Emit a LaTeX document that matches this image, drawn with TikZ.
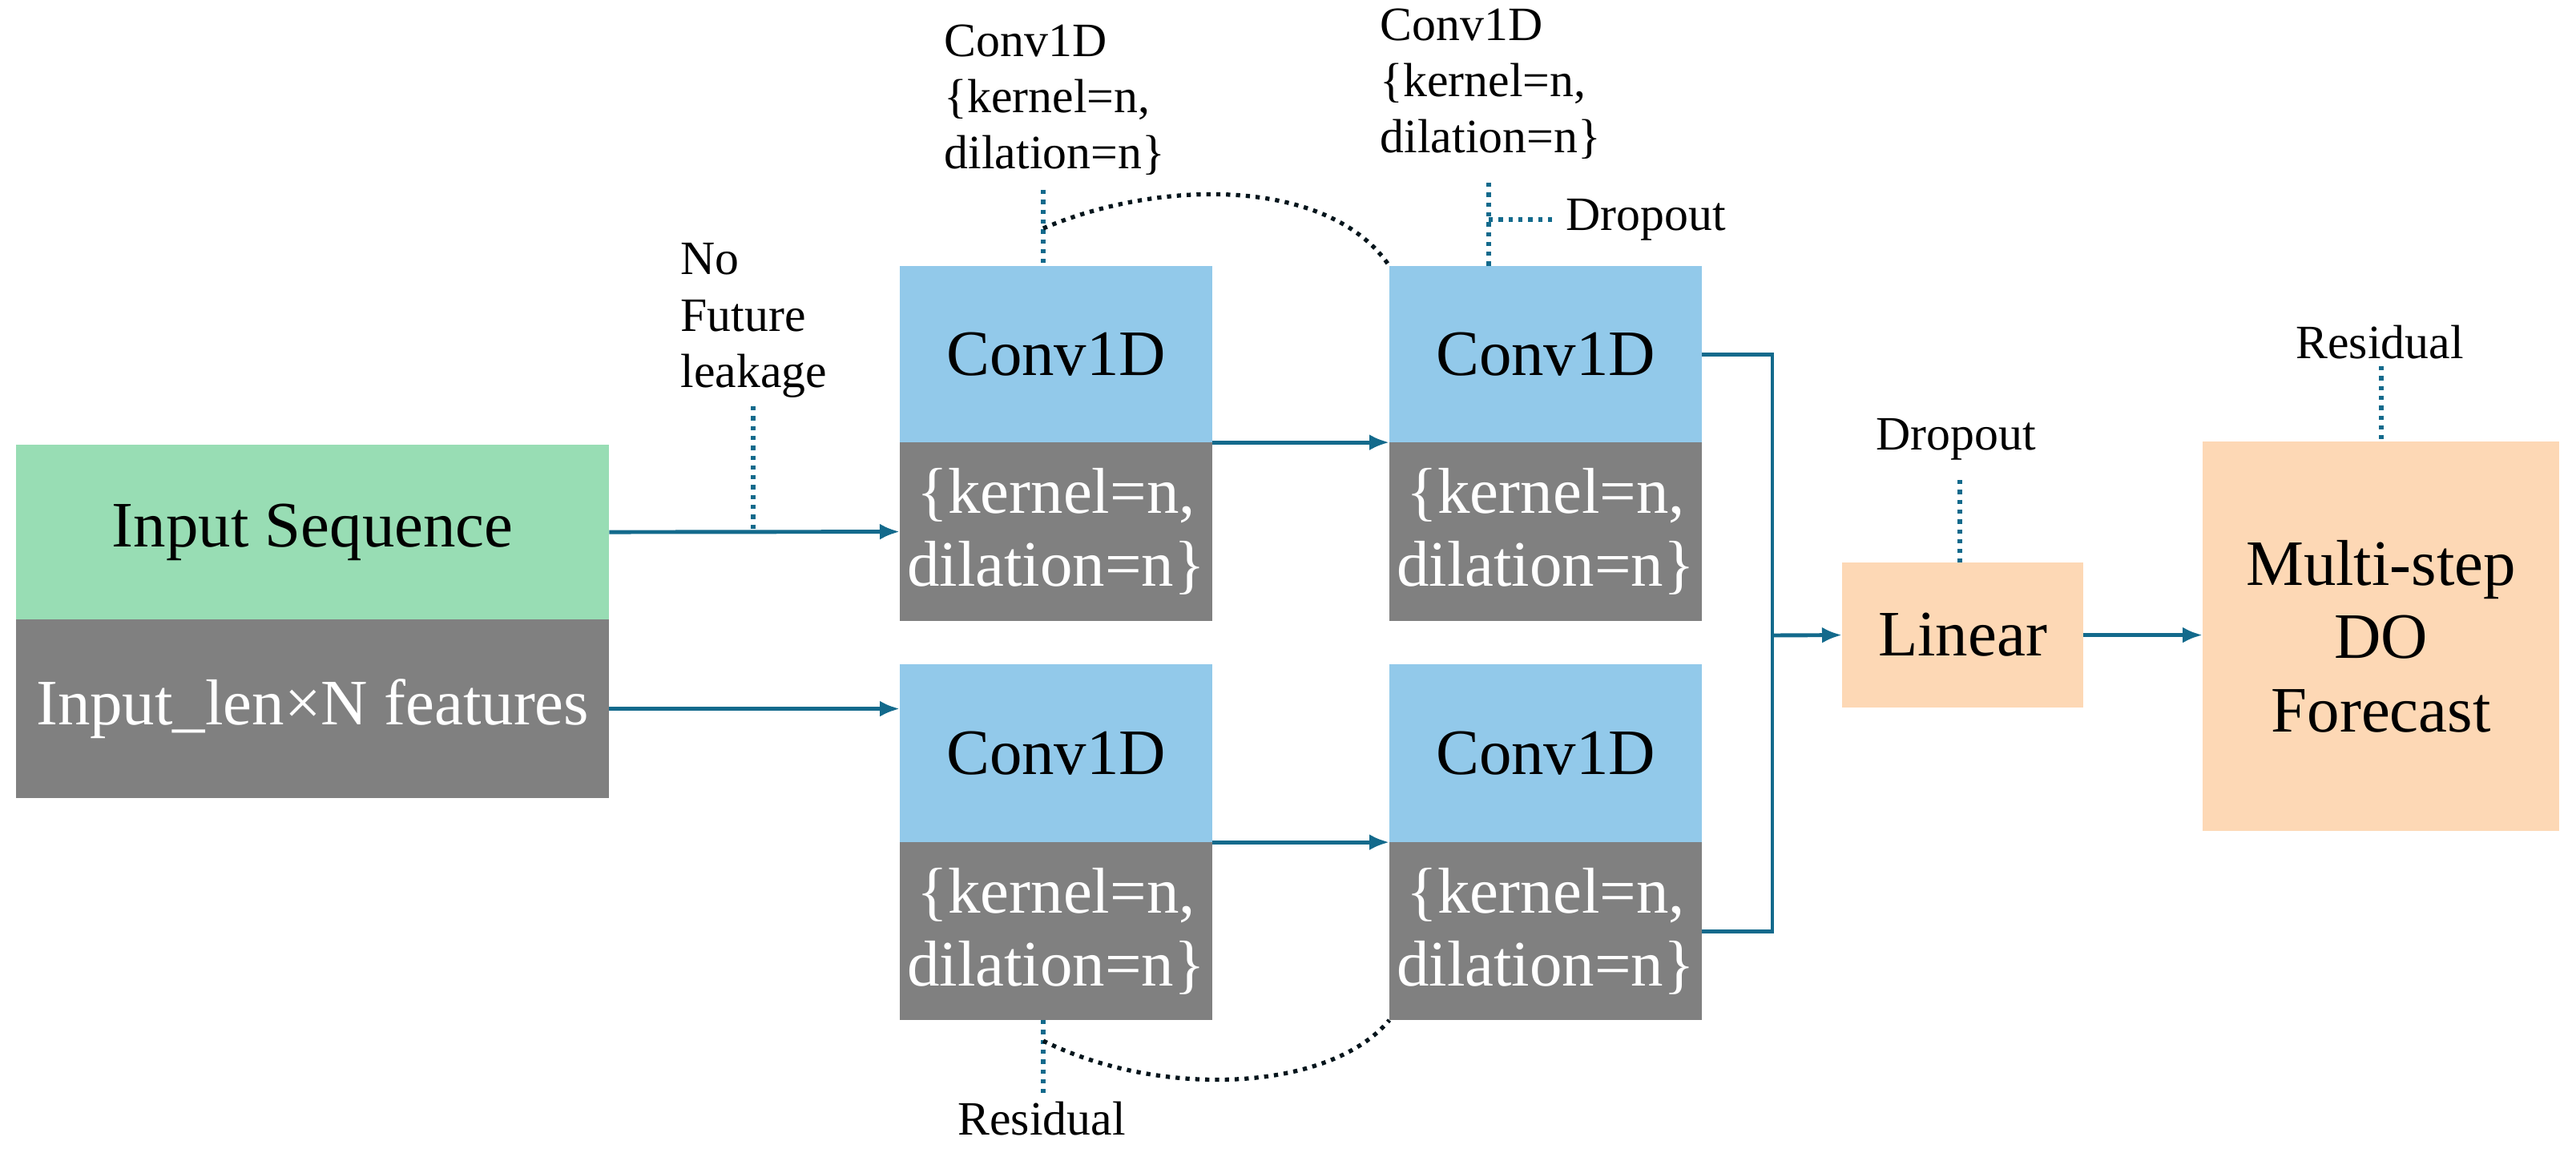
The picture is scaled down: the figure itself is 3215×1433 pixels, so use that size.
\documentclass[tikz,border=0pt]{standalone}
\usepackage{fontspec}
\setmainfont{Liberation Serif}
\usetikzlibrary{arrows.meta}
\definecolor{gr}{HTML}{98DDB4}
\definecolor{bl}{HTML}{92C9EA}
\definecolor{gy}{HTML}{808080}
\definecolor{pe}{HTML}{FDD8B5}
\definecolor{ln}{HTML}{136A8C}
\begin{document}
\begin{tikzpicture}[x=0.01cm,y=-0.01cm,
  box/.style={anchor=north west,inner sep=0pt,outer sep=0pt,font=\fontsize{23}{26}\selectfont,align=center},
  gbox/.style={box,fill=gy,text=white,minimum height=2.22cm},
  cbox/.style={box,fill=bl,minimum width=3.9cm,minimum height=2.2cm},
  arr/.style={draw=ln,line width=1.4pt,-{Latex[length=0.25cm,width=0.2cm]}},
  ln/.style={draw=ln,line width=1.4pt},
  dot/.style={draw=ln,line width=1.5pt,dotted},
  dotk/.style={draw=black!80!ln,line width=1.5pt,dotted},
  lab/.style={font=\fontsize{17}{20}\selectfont,align=left,inner sep=0pt}]
\useasboundingbox (0,0) rectangle (3215,1433);
% input
\node[box,fill=gr,minimum width=7.4cm,minimum height=2.18cm] (ins) at (20,555) {Input Sequence};
\node[gbox,minimum width=7.4cm,minimum height=2.23cm] (ing) at (20,773) {Input\_len×N features};
% convs
\node[cbox] (tlb) at (1123,332) {Conv1D};
\node[gbox,minimum width=3.9cm,minimum height=2.23cm] (tlg) at (1123,552) {\{kernel=n,\\dilation=n\}};
\node[cbox,minimum height=2.22cm] (blb) at (1123,829) {Conv1D};
\node[gbox,minimum width=3.9cm] (blg) at (1123,1051) {\{kernel=n,\\dilation=n\}};
\node[cbox] (trb) at (1734,332) {Conv1D};
\node[gbox,minimum width=3.9cm,minimum height=2.23cm] (trg) at (1734,552) {\{kernel=n,\\dilation=n\}};
\node[cbox,minimum height=2.22cm] (brb) at (1734,829) {Conv1D};
\node[gbox,minimum width=3.9cm] (brg) at (1734,1051) {\{kernel=n,\\dilation=n\}};
% linear, multi
\node[box,fill=pe,minimum width=3.01cm,minimum height=1.81cm] (lin) at (2299,702) {Linear};
\node[box,fill=pe,minimum width=4.45cm,minimum height=4.86cm] (ms) at (2749,551) {Multi-step\\DO\\Forecast};
% arrows
\draw[arr] (ins.east) -- (tlg.west);
\draw[arr] (ing.east) -- (ing.east -| blb.west);
\draw[arr] (tlb.south east) -- (trb.south west);
\draw[arr] (blb.south east) -- (brb.south west);
\coordinate (j) at (2212,793);
\draw[ln] (trb.east) -| (j) |- (brg.east);
\draw[arr] (j) -- (lin.west);
\draw[arr] (lin.east) -- (lin.east -| ms.west);
% labels
\node[lab,anchor=north west] (nf) at (849,303) {No\\Future\\leakage};
\coordinate (nfb) at (940,666);
\draw[dot] (940,507) -- (nfb);
\node[lab,anchor=north west] (l1) at (1178,30) {Conv1D\\\{kernel=n,\\dilation=n\}};
\draw[dot] (1302,237) -- (1302,332);
\draw[dotk] (1302,285) .. controls (1450,222) and (1660,222) .. (trb.north west);
\node[lab,anchor=north west] (l2) at (1722,10) {Conv1D\\\{kernel=n,\\dilation=n\}};
\draw[dot] (1858,228) -- (1858,332);
\draw[dot] (1858,274) -- (1937,274);
\node[lab,anchor=west] (d1) at (1954,274) {Dropout};
\draw[dot] (1302,1273) -- (1302,1368);
\draw[dotk] (1302,1299) .. controls (1450,1372) and (1660,1362) .. (brg.south west);
\node[lab,anchor=north] (r1) at (1300,1374) {Residual};
\node[lab,anchor=center] (d2) at (2441,548) {Dropout};
\draw[dot] (2446,599) -- (lin.north -| 2446,0);
\node[lab,anchor=center] (r2) at (2970,427) {Residual};
\draw[dot] (2972,457) -- (ms.north -| 2972,0);
\end{tikzpicture}
\end{document}
